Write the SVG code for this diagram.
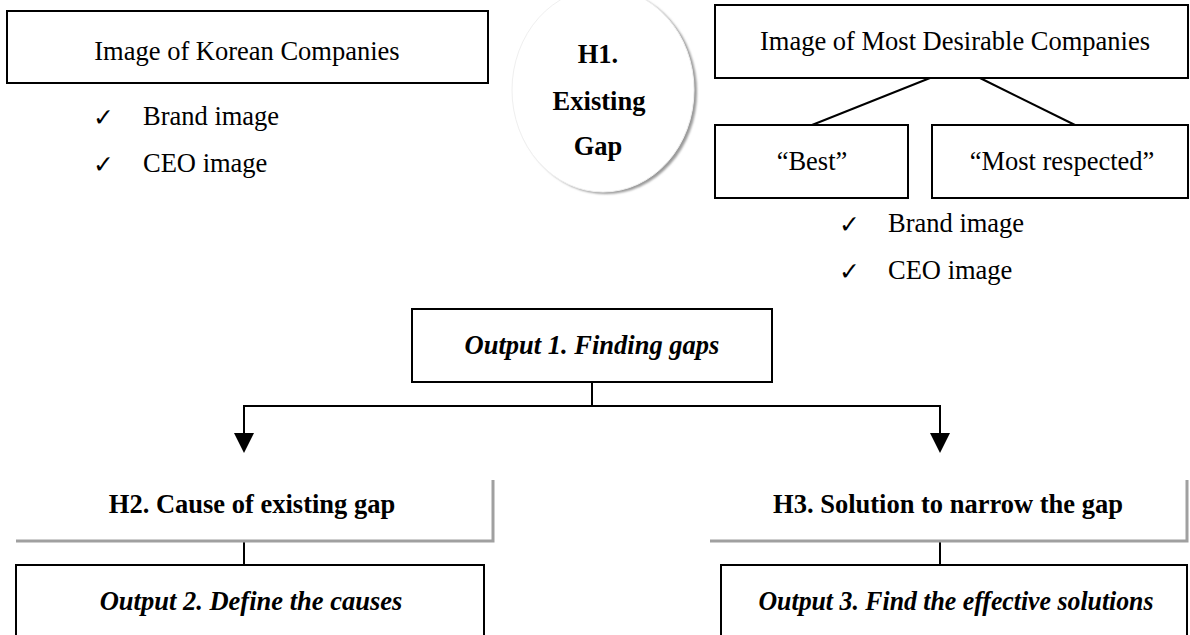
<svg xmlns="http://www.w3.org/2000/svg" width="1190" height="635" viewBox="0 0 1190 635">
  <defs>
    <style>
      .box { fill: #ffffff; stroke: #000000; stroke-width: 2; }
      .link { fill: none; stroke: #000000; stroke-width: 2; }
      .rim { fill: none; stroke: #a0a0a0; stroke-width: 3; }
      .t { font-family: "Liberation Serif", "Times New Roman", serif; font-size: 26.5px; fill: #000; }
      .b { font-weight: bold; }
      .bi { font-weight: bold; font-style: italic; }
      .mid { text-anchor: middle; }
      .chk { font-family: "DejaVu Sans", sans-serif; font-size: 25px; fill: #000; }
    </style>
    <filter id="soft" x="-10%" y="-10%" width="120%" height="120%">
      <feGaussianBlur stdDeviation="1"/>
    </filter>
  </defs>

  <rect width="1190" height="635" fill="#ffffff"/>

  <!-- connectors -->
  <g id="connectors">
    <line class="link" x1="930" y1="78" x2="812" y2="125"/>
    <line class="link" x1="980" y1="78" x2="1075" y2="125"/>
    <line class="link" x1="592" y1="382" x2="592" y2="406"/>
    <line class="link" x1="244" y1="406" x2="940" y2="406"/>
    <line class="link" x1="244" y1="405" x2="244" y2="433"/>
    <line class="link" x1="940" y1="405" x2="940" y2="433"/>
    <path d="M234,433 L254,433 L244,453 Z" fill="#000"/>
    <path d="M930,433 L950,433 L940,453 Z" fill="#000"/>
    <line class="link" x1="244" y1="541" x2="244" y2="565"/>
    <line class="link" x1="940" y1="541" x2="940" y2="565"/>
  </g>

  <!-- left: current company image -->
  <g id="korean">
    <rect class="box" x="7" y="11" width="481" height="72"/>
    <text class="t mid" x="247" y="60">Image of Korean Companies</text>
    <text class="chk" x="93" y="126">✓</text>
    <text class="t" x="143" y="125">Brand image</text>
    <text class="chk" x="93" y="173">✓</text>
    <text class="t" x="143" y="172">CEO image</text>
  </g>

  <!-- centre bubble, cut off by the top edge -->
  <g id="h1">
    <ellipse cx="606" cy="92" rx="91" ry="102" fill="#9a9a9a" filter="url(#soft)"/>
    <ellipse cx="603" cy="90" rx="91" ry="102" fill="#ffffff" stroke="#efefef" stroke-width="1"/>
    <text class="t b mid" x="598" y="63">H1.</text>
    <text class="t b mid" x="599" y="110">Existing</text>
    <text class="t b mid" x="598" y="155">Gap</text>
  </g>

  <!-- right: desirable companies -->
  <g id="desirable">
    <rect class="box" x="715" y="5" width="473" height="73"/>
    <text class="t mid" x="955" y="50">Image of Most Desirable Companies</text>
  </g>
  <g id="best">
    <rect class="box" x="715" y="125" width="193" height="73"/>
    <text class="t mid" x="812" y="170">“Best”</text>
  </g>
  <g id="respected">
    <rect class="box" x="932" y="125" width="256" height="73"/>
    <text class="t mid" x="1062" y="170">“Most respected”</text>
  </g>
  <g id="desirable-items">
    <text class="chk" x="839" y="233">✓</text>
    <text class="t" x="888" y="232">Brand image</text>
    <text class="chk" x="839" y="280">✓</text>
    <text class="t" x="888" y="279">CEO image</text>
  </g>

  <!-- output 1 -->
  <g id="output1">
    <rect class="box" x="412" y="309" width="360" height="73"/>
    <text class="t bi mid" x="592" y="354">Output 1. Finding gaps</text>
  </g>

  <!-- hypothesis 2 -->
  <g id="h2">
    <polyline class="rim" points="16,541 493,541 493,480"/>
    <text class="t b mid" x="252" y="513">H2. Cause of existing gap</text>
  </g>
  <g id="output2">
    <rect class="box" x="16" y="565" width="468" height="90"/>
    <text class="t bi mid" x="251" y="610">Output 2. Define the causes</text>
  </g>

  <!-- hypothesis 3 -->
  <g id="h3">
    <polyline class="rim" points="710,541 1187,541 1187,480"/>
    <text class="t b mid" x="948" y="513">H3. Solution to narrow the gap</text>
  </g>
  <g id="output3">
    <rect class="box" x="721" y="565" width="466" height="90"/>
    <text class="t bi mid" x="956" y="610" textLength="395" lengthAdjust="spacingAndGlyphs">Output 3. Find the effective solutions</text>
  </g>
</svg>
